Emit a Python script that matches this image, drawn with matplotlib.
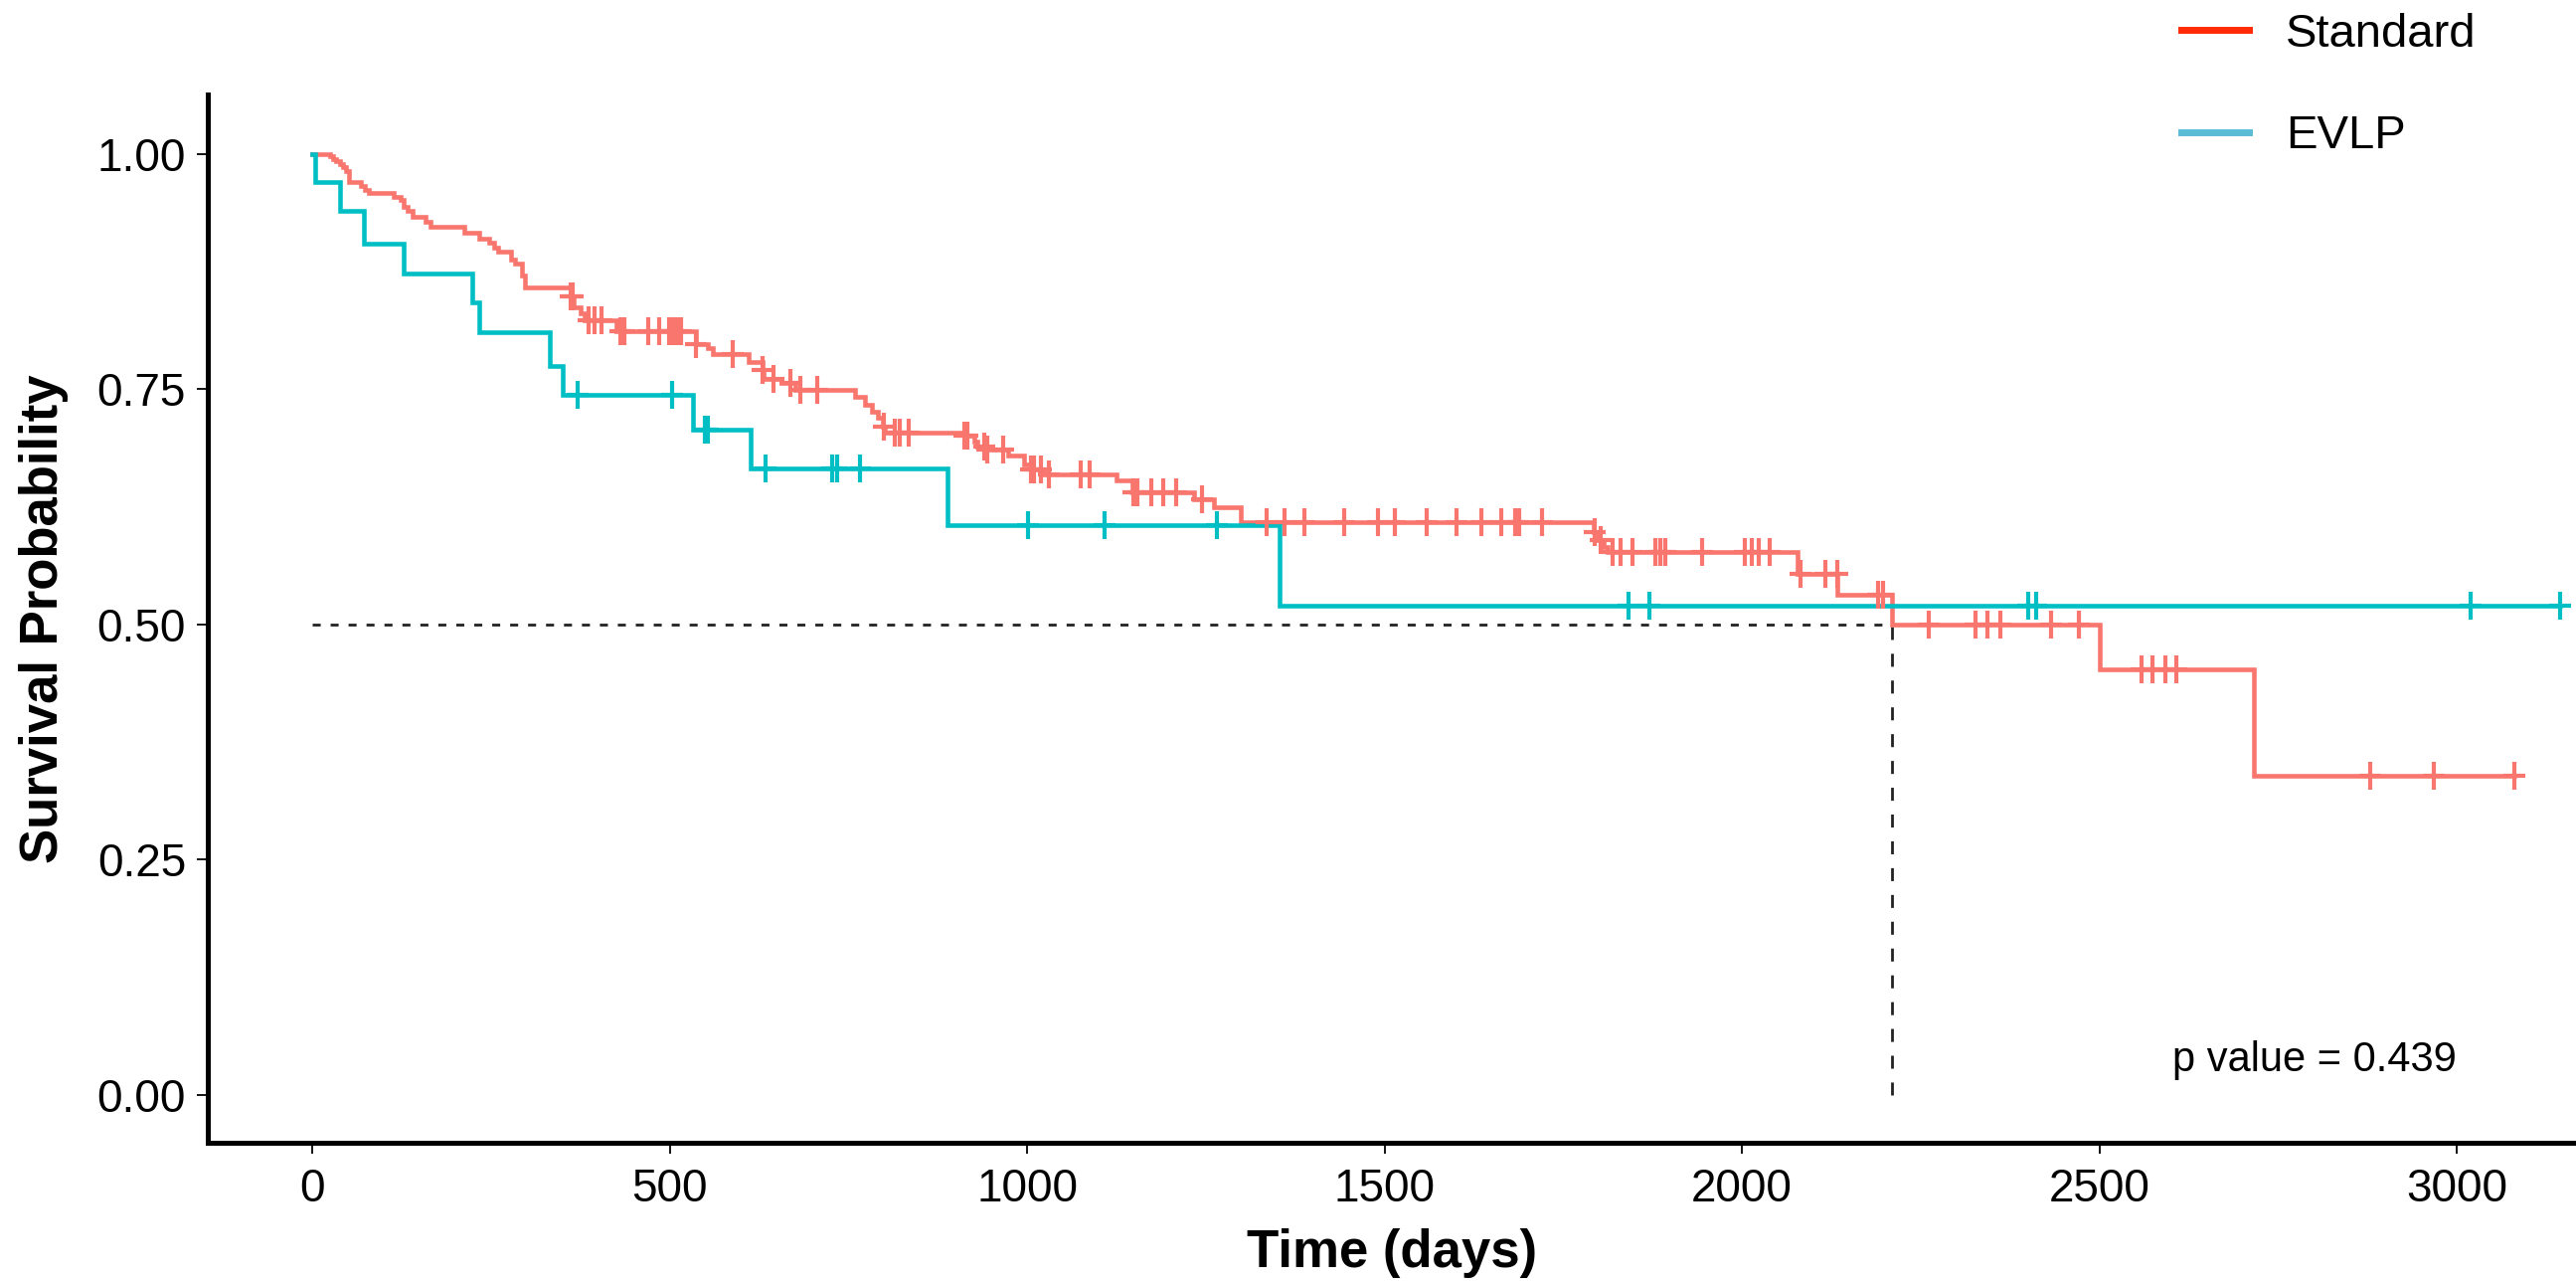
import numpy as np
import matplotlib
matplotlib.use("Agg")
import matplotlib.pyplot as plt
from matplotlib.lines import Line2D
from matplotlib.path import Path

plt.rcParams['font.family'] = ['Liberation Sans', 'DejaVu Sans']
plt.rcParams['lines.scale_dashes'] = False

# ---------------- data ----------------
groups = ["Standard", "EVLP"]

std_times = [0, 24.6, 29.2, 33.9, 38.5, 43.1, 47.8, 51.5, 68.6, 73.3, 79.3, 113.6, 124.3,
             128, 133.5, 140.5, 158, 166, 212.3, 233.2, 247, 254, 260, 278.6, 284.2, 293.5,
             298, 361, 366, 375, 381, 425.6, 537, 553, 560, 611, 629.6, 632, 657, 676, 759,
             773, 783, 792, 799, 801, 912, 926, 931, 945, 973, 996, 1005, 1024, 1125, 1147,
             1233, 1261, 1299, 1793, 1798, 1806, 1812, 2078, 2134, 2210, 2501, 2716]
std_surv = [1.0, 0.997, 0.994, 0.992, 0.989, 0.986, 0.982, 0.970, 0.966, 0.962, 0.958, 0.954,
            0.951, 0.944, 0.939, 0.933, 0.928, 0.922, 0.916, 0.910, 0.906, 0.900, 0.896, 0.888,
            0.883, 0.871, 0.858, 0.848, 0.837, 0.830, 0.823, 0.811, 0.798, 0.793, 0.787, 0.779,
            0.770, 0.761, 0.756, 0.749, 0.742, 0.733, 0.726, 0.719, 0.710, 0.704, 0.700, 0.694,
            0.689, 0.686, 0.679, 0.670, 0.665, 0.659, 0.653, 0.640, 0.633, 0.624, 0.609, 0.598,
            0.589, 0.582, 0.577, 0.554, 0.531, 0.500, 0.452, 0.339]
std_censor = [361, 365, 386, 395, 405, 431, 437, 470, 485, 499, 505, 511, 516, 537, 589, 630,
              646, 669, 683, 707, 800, 815, 822, 834, 912, 917, 940, 945, 966, 1005, 1010, 1019,
              1031, 1075, 1088, 1149, 1155, 1174, 1191, 1208, 1245, 1335, 1360, 1388, 1444, 1491,
              1515, 1559, 1601, 1636, 1663, 1683, 1688, 1720, 1794, 1802, 1819, 1830, 1847, 1879,
              1886, 1893, 1944, 2004, 2014, 2023, 2039, 2082, 2117, 2133, 2190, 2197, 2261, 2327,
              2344, 2361, 2433, 2472, 2559, 2574, 2593, 2608, 2879, 2968, 3080]
std_last = 3080

evlp_times = [0, 4, 39, 72, 128, 224, 234, 332, 351, 532, 614, 889, 1353]
evlp_surv = [1.0, 0.970, 0.939, 0.904, 0.873, 0.842, 0.810, 0.775, 0.744, 0.707, 0.666, 0.605, 0.520]
evlp_censor = [372, 504, 549, 553, 634, 727, 734, 766, 1001, 1108, 1266, 1842, 1870, 2400, 2411,
               3019, 3145]
evlp_last = 3145

median_time = 2210
p_text = "p value = 0.439"

x_ticks = [0, 500, 1000, 1500, 2000, 2500, 3000]
y_ticks = [0.00, 0.25, 0.50, 0.75, 1.00]
y_ticklabels = ["0.00", "0.25", "0.50", "0.75", "1.00"]

curve_colors = {"Standard": "#F8766D", "EVLP": "#00BFC4"}
legend_colors = {"Standard": "#FF2A06", "EVLP": "#5BBCD6"}

# ---------------- figure ----------------
W, H = 2591, 1289
fig = plt.figure(figsize=(W / 100, H / 100), dpi=100)
ax = fig.add_axes([209.3 / W, 1 - 1149 / H, 1 - 209.3 / W, (1149 - 95.4) / H])
ax.set_xlim(-145.6, 3166.8)
ax.set_ylim(-0.051, 1.0626)

plus = Path([(-0.8, 0), (0.8, 0), (0, -1), (0, 1)],
            [Path.MOVETO, Path.LINETO, Path.MOVETO, Path.LINETO])


def draw_group(times, surv, censor, last, color, z):
    t = np.asarray(times, float)
    s = np.asarray(surv, float)
    ax.step(np.append(t, last), np.append(s, s[-1]), where='post',
            color=color, lw=3.3, zorder=z, solid_joinstyle='miter')
    c = np.asarray(censor, float)
    idx = np.searchsorted(t, c, side='right') - 1
    return c, s[idx]


cs, ys = draw_group(std_times, std_surv, std_censor, std_last, curve_colors["Standard"], 2.0)
ce, ye = draw_group(evlp_times, evlp_surv, evlp_censor, evlp_last, curve_colors["EVLP"], 2.1)
ax.plot(cs, ys, linestyle='none', marker=plus, markersize=19.5, markeredgewidth=3.0,
        color=curve_colors["Standard"], zorder=3.0)
ax.plot(ce, ye, linestyle='none', marker=plus, markersize=19.5, markeredgewidth=3.0,
        color=curve_colors["EVLP"], zorder=3.1)

# median lines
hl, = ax.plot([0, median_time], [0.5, 0.5], color='#222222', lw=2.0, zorder=1.5)
hl.set_dashes([5.8, 7.2])
vl, = ax.plot([median_time, median_time], [0, 0.5], color='#222222', lw=2.0, zorder=1.5)
vl.set_dashes([9.4, 10.0])

# p value
ax.text(2602, 0.025, p_text, fontsize=30, ha='left', va='baseline', color='black')

# axes styling
for side in ['top', 'right']:
    ax.spines[side].set_visible(False)
for side in ['left', 'bottom']:
    ax.spines[side].set_linewidth(3.6)
    ax.spines[side].set_color('black')
ax.set_xticks(x_ticks)
ax.set_xticklabels([str(v) for v in x_ticks])
ax.set_yticks(y_ticks)
ax.set_yticklabels(y_ticklabels)
ax.tick_params(axis='both', length=8, width=1.3, color='black', labelsize=33,
               labelcolor='black')
ax.tick_params(axis='x', pad=10)
ax.tick_params(axis='y', pad=8)
ax.set_xlabel("Time (days)", fontsize=38, fontweight='bold', labelpad=12)
ax.set_ylabel("Survival Probability", fontsize=38, fontweight='bold', labelpad=21)

# legend
handles = [Line2D([], [], color=legend_colors[g], lw=5) for g in groups]
fig.legend(handles, groups, loc='upper left', bbox_to_anchor=(2194 / W, 1 - 13 / H),
           frameon=False, fontsize=34, borderpad=0, borderaxespad=0, handlelength=1.45,
           handletextpad=0.77, labelspacing=1.23)

fig.savefig("out.png", dpi=100)
